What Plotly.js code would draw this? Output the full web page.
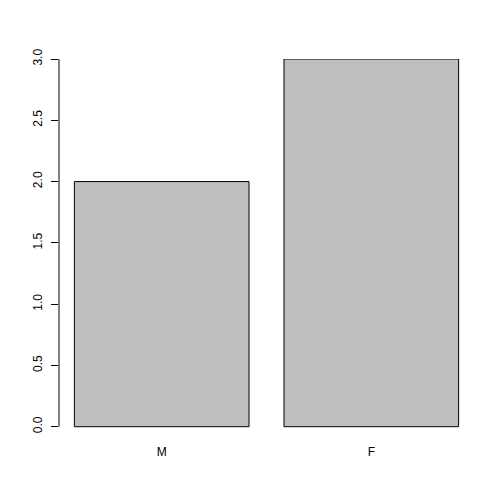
<!DOCTYPE html>
<html>
<head>
<meta charset="utf-8">
<script src="https://cdn.plot.ly/plotly-3.0.1.min.js"></script>
<style>
  html, body { margin: 0; padding: 0; background: #fff; }
  #chart { width: 504px; height: 504px; }
</style>
</head>
<body>
<div id="chart"></div>
<script>
// counts per sex
var categories = ["M", "F"];
var counts = [2, 3];
var yTicks = [0, 0.5, 1, 1.5, 2, 2.5, 3];

var trace = {
  x: categories,
  y: counts,
  type: "bar",
  marker: {
    color: "#bebebe",
    line: { color: "#000000", width: 1 }
  },
  hoverinfo: "none"
};

var layout = {
  width: 504,
  height: 504,
  margin: { l: 59, r: 30, t: 59, b: 73 },
  paper_bgcolor: "#ffffff",
  plot_bgcolor: "#ffffff",
  showlegend: false,
  bargap: 1 / 6,
  font: { family: "Liberation Sans, Arial, sans-serif", size: 12, color: "#000000" },
  xaxis: {
    type: "category",
    range: [-0.49, 1.49],
    showline: false,
    showgrid: false,
    zeroline: false,
    ticks: "",
    ticklabelstandoff: 12
  },
  yaxis: {
    range: [-0.035, 3],
    showline: false,
    showgrid: false,
    zeroline: false,
    tickmode: "array",
    tickvals: yTicks,
    ticktext: yTicks.map(function (v) { return v.toFixed(1); }),
    ticks: "outside",
    ticklen: 7,
    tickwidth: 1,
    tickcolor: "#000000",
    tickangle: -90,
    ticklabelstandoff: 4
  },
  // y axis line only spans the data range, like base R
  shapes: [{
    type: "line",
    xref: "paper", x0: 0, x1: 0,
    yref: "y", y0: yTicks[0], y1: yTicks[yTicks.length - 1],
    line: { color: "#000000", width: 1 }
  }]
};

Plotly.newPlot("chart", [trace], layout, { staticPlot: true, displayModeBar: false });
</script>
</body>
</html>
